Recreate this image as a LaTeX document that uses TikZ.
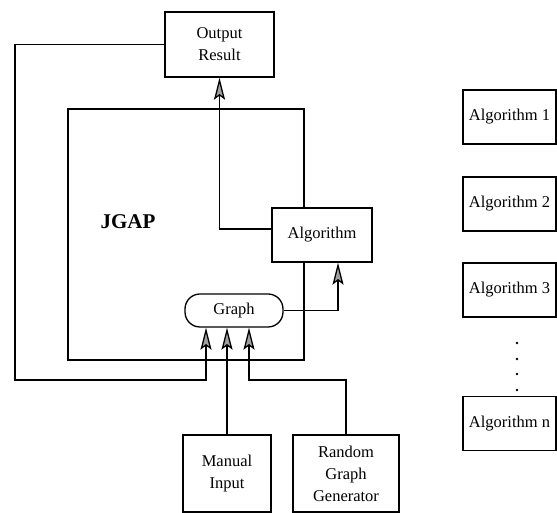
\documentclass[tikz,border=0pt]{standalone}
\usepackage{fontspec}
\setmainfont{Liberation Serif}
\usetikzlibrary{arrows.meta}

\begin{document}
\begin{tikzpicture}[x = 1pt, y = 1pt,
        every node/.style = {font = \fontsize{16.5}{22}\selectfont},
        box/.style = {draw, line width = 1.3pt, align = center, fill = white},
        arr/.style = {line width = 1.3pt, -{Stealth[length = 22pt, width = 11pt, inset = 4pt, fill = gray!75]}}]
        \useasboundingbox (0, 0) rectangle (557, 513);
        % big JGAP frame behind everything
        \node[box, minimum width = 236pt, minimum height = 251pt] (jgap) at (186, 278.5) {};
        \node[font = \fontsize{21}{25}\selectfont\bfseries] (jgaptext) at (128, 291) {JGAP};
        \node[box, minimum width = 109pt, minimum height = 65pt] (out) at (219.5, 468.5) {Output\\Result};
        \node[box, minimum width = 100pt, minimum height = 54pt] (alg) at (322, 278) {Algorithm};
        \node[box, rounded corners = 15pt, minimum width = 98pt, minimum height = 33pt] (graph) at (234, 202.5) {Graph};
        \node[box, minimum width = 88pt, minimum height = 77pt] (man) at (227, 39.5) {Manual\\Input};
        \node[box, minimum width = 106pt, minimum height = 77pt] (rnd) at (346, 39.5) {Random\\Graph\\Generator};
        \coordinate (loopcorner) at (15, 133);
        \coordinate (rndbend) at (249, 133);
        \draw[arr] ([yshift = 6pt]alg.west) -| (out.south);
        \draw[arr] (graph.east) -| ([xshift = 16pt]alg.south);
        \draw[arr] (out.west) -| (loopcorner) -| ([xshift = -28pt]graph.south);
        \draw[arr] (man.north) -- (man.north |- graph.south);
        \draw[arr] (rnd.north) |- (rndbend) -- (rndbend |- graph.south);
        % list of algorithms on the right
        \foreach \y/\t in {396/1, 309/2, 223/3, 89.5/n}{
            \node[box, minimum width = 93pt, minimum height = 54pt] (alg\t) at (509.5, \y) {Algorithm \t};
        }
        \foreach \y in {170, 154, 139, 123}{
            \fill (517, \y) circle (1.3pt);
        }
    \end{tikzpicture}
\end{document}
